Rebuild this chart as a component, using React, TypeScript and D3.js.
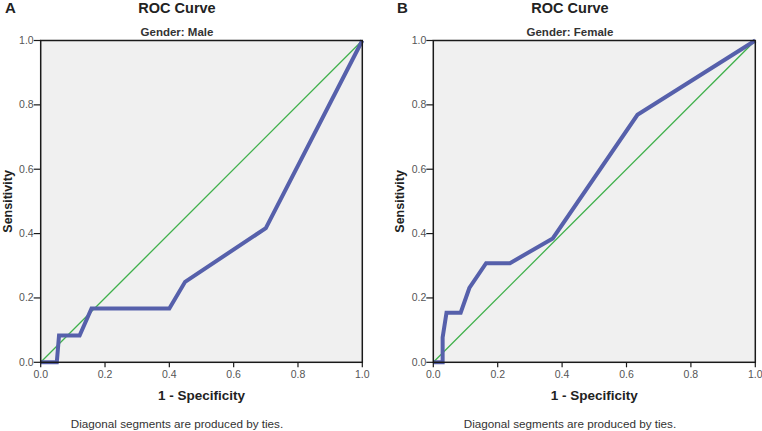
import React from 'react';
import * as d3 from 'd3';

const W = 762, H = 431;

// ROC points (1 - specificity, sensitivity)
const maleFpr = [0, 0.05, 0.057, 0.121, 0.158, 0.4, 0.449, 0.7, 1];
const maleTpr = [0, 0, 0.083, 0.083, 0.167, 0.167, 0.25, 0.417, 1];
const femaleFpr = [0, 0.029, 0.029, 0.041, 0.085, 0.112, 0.164, 0.238, 0.371, 0.634, 1];
const femaleTpr = [0, 0, 0.077, 0.154, 0.154, 0.231, 0.308, 0.308, 0.385, 0.769, 1];
const ticks = [0, 0.2, 0.4, 0.6, 0.8, 1.0];

const FONT = '"Liberation Sans", Arial, sans-serif';

function Panel({ letter, subtitle, fpr, tpr, left, right, titleX, yTitleX, letterX }) {
  const x = d3.scaleLinear().domain([0, 1]).range([left, right]);
  const y = d3.scaleLinear().domain([0, 1]).range([362.3, 40.5]);
  const pts: [number, number][] = fpr.map((f, i) => [f, tpr[i]]);
  const line = d3.line<[number, number]>().x(d => x(d[0])).y(d => y(d[1]));
  const cx = (left + right) / 2;

  return (
    <g fontFamily={FONT}>
      <text x={letterX} y={13} fontSize={15} fontWeight="bold" fill="#222">{letter}</text>
      <text x={titleX} y={13} fontSize={14.5} fontWeight="bold" textAnchor="middle" fill="#222">ROC Curve</text>
      <text x={titleX} y={36} fontSize={11.5} fontWeight="bold" textAnchor="middle" fill="#333">{subtitle}</text>

      <rect x={x(0)} y={y(1)} width={x(1) - x(0)} height={y(0) - y(1)} fill="#f0f0f0" />

      {/* reference diagonal */}
      <line x1={x(0)} y1={y(0)} x2={x(1)} y2={y(1)} stroke="#3fb04b" strokeWidth={1.3} />
      {/* ROC curve */}
      <path d={line(pts) || ''} fill="none" stroke="#5660ab" strokeWidth={4} strokeLinejoin="miter" />

      <rect x={x(0)} y={y(1)} width={x(1) - x(0)} height={y(0) - y(1)} fill="none" stroke="#1a1a1a" strokeWidth={1.5} />

      {ticks.map(t => (
        <g key={'y' + t}>
          <line x1={x(0) - 7} x2={x(0)} y1={y(t)} y2={y(t)} stroke="#1a1a1a" strokeWidth={1.2} />
          <text x={x(0) - 7} y={y(t) + 3.5} fontSize={10.5} textAnchor="end" fill="#555">{t.toFixed(1)}</text>
        </g>
      ))}
      {ticks.map(t => (
        <g key={'x' + t}>
          <line x1={x(t)} x2={x(t)} y1={y(0)} y2={y(0) + 5} stroke="#1a1a1a" strokeWidth={1.2} />
          <text x={x(t)} y={y(0) + 15.5} fontSize={10.5} textAnchor="middle" fill="#555">{t.toFixed(1)}</text>
        </g>
      ))}

      <text x={cx} y={400} fontSize={13.5} fontWeight="bold" textAnchor="middle" fill="#222">1 - Specificity</text>
      <text transform={`translate(${yTitleX},${(y(0) + y(1)) / 2}) rotate(-90)`} fontSize={12.5} fontWeight="bold" textAnchor="middle" fill="#222">Sensitivity</text>
      <text x={titleX} y={428} fontSize={11.7} textAnchor="middle" fill="#333">Diagonal segments are produced by ties.</text>
    </g>
  );
}

export default function App() {
  return (
    <svg width={W} height={H} viewBox={`0 0 ${W} ${H}`} style={{ position: 'absolute', left: 0, top: 0, background: '#fff' }}>
      <Panel letter="A" subtitle="Gender: Male" fpr={maleFpr} tpr={maleTpr}
        left={40.7} right={362.3} titleX={177} yTitleX={11.5} letterX={5} />
      <Panel letter="B" subtitle="Gender: Female" fpr={femaleFpr} tpr={femaleTpr}
        left={433.3} right={755.3} titleX={570} yTitleX={403.5} letterX={397} />
    </svg>
  );
}
